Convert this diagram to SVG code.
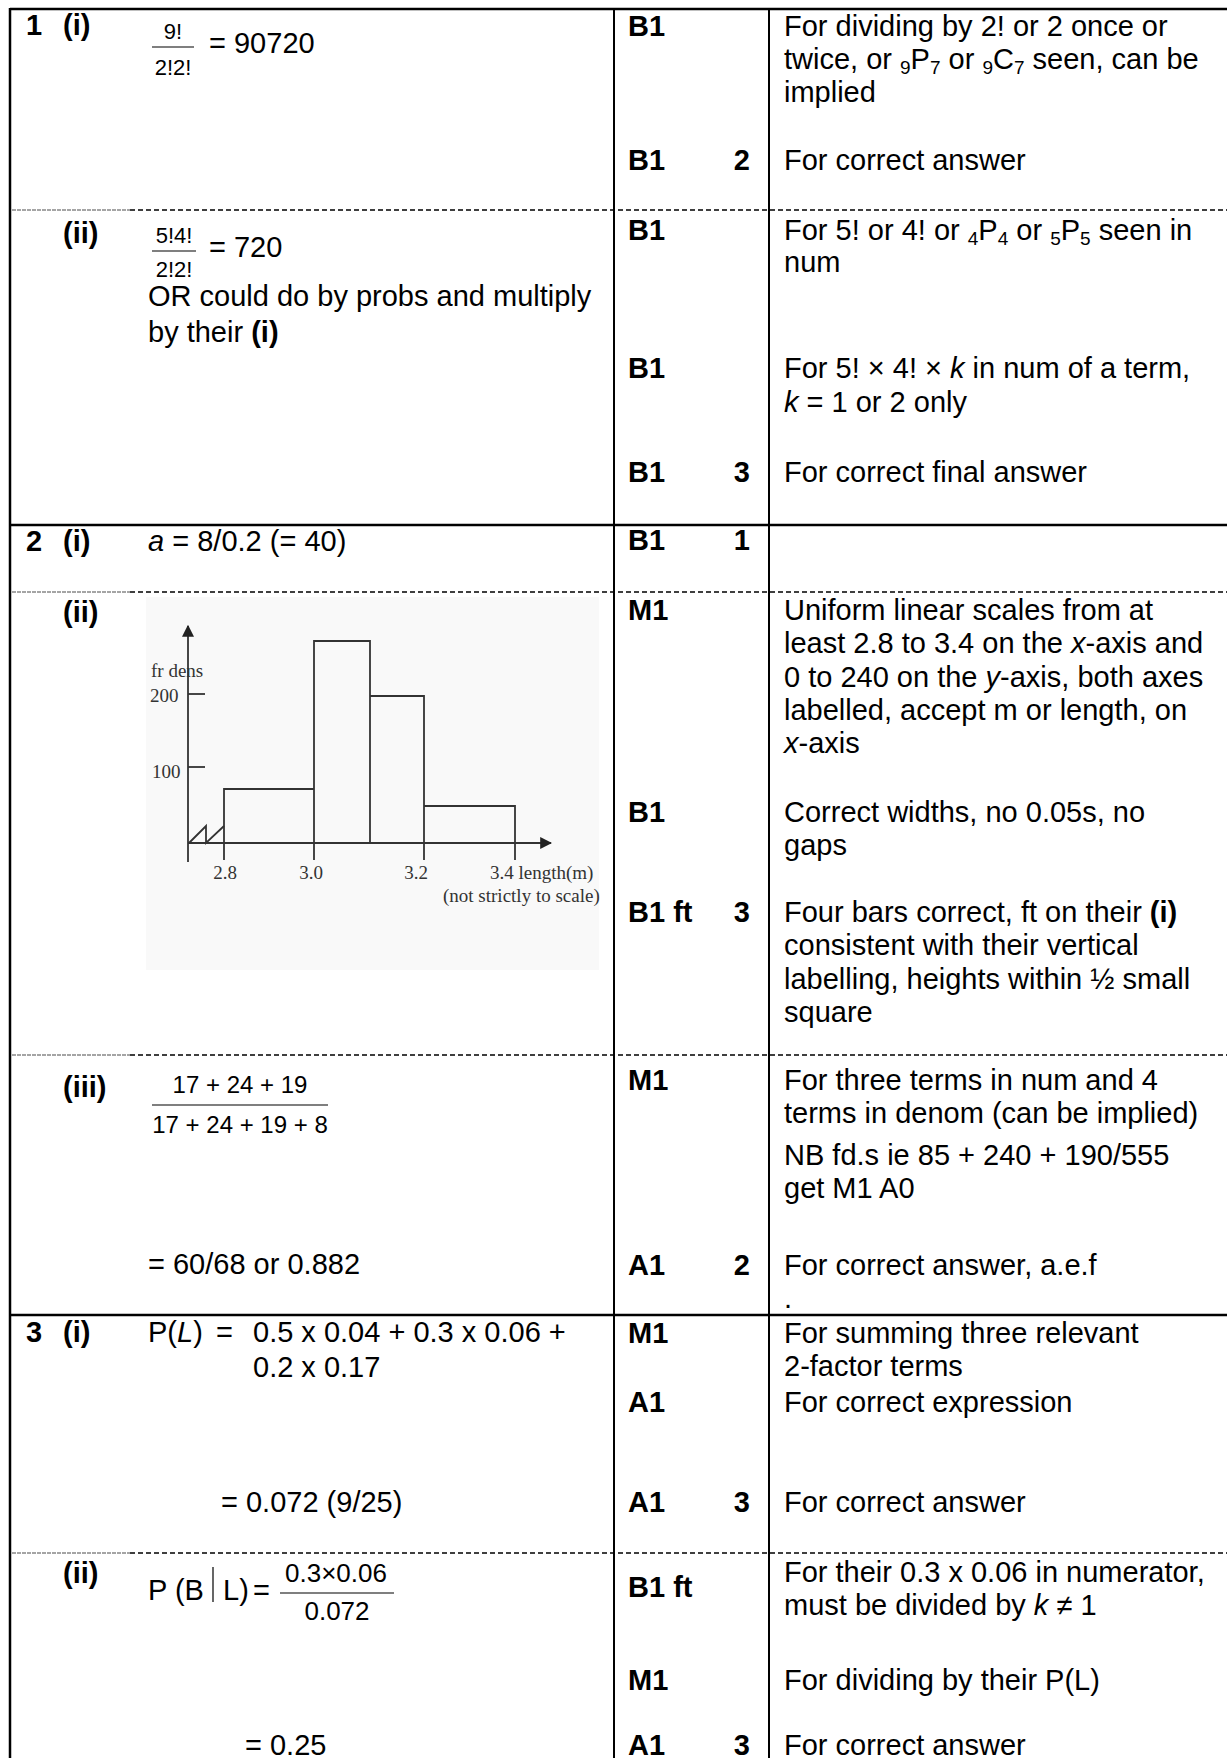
<svg xmlns="http://www.w3.org/2000/svg" width="1227" height="1758" viewBox="0 0 1227 1758">
<style>
text{font-family:"Liberation Sans",Arial,sans-serif;font-size:29px;fill:#000}
.b{font-weight:bold}
.i{font-style:italic}
.s22{font-size:22px}
.s24{font-size:24px}
.s26{font-size:26px}
.sub{font-size:19px}
.m{text-anchor:middle}
.e{text-anchor:end}
.ch{font-family:"Liberation Serif","Times New Roman",serif;font-size:19px;fill:#333}
.solid{stroke:#000;stroke-width:2.5;fill:none}
.vl{stroke:#000;stroke-width:2;fill:none}
.dash{stroke:#000;stroke-width:1.5;stroke-dasharray:5 3;fill:none}
.dashg{stroke:#888;stroke-width:1.5;stroke-dasharray:4 1;fill:none}
.fr{stroke:#000;stroke-width:1.2}
.cl{stroke:#333;stroke-width:1.8;fill:none}
</style>
<defs>
<marker id="arr" viewBox="0 0 10 10" refX="9" refY="5" markerWidth="12" markerHeight="12" markerUnits="userSpaceOnUse" orient="auto"><path d="M0,0 L10,5 L0,10 z" fill="#222"/></marker>
</defs>
<rect width="1227" height="1758" fill="#fff"/>
<g id="grid">
<line class="solid" x1="10" y1="9" x2="1227" y2="9"/>
<line class="solid" x1="10" y1="8" x2="10" y2="1758"/>
<line class="vl" x1="614" y1="8" x2="614" y2="1758"/>
<line class="vl" x1="769" y1="8" x2="769" y2="1758"/>
<line class="solid" x1="10" y1="525" x2="1227" y2="525"/>
<line class="solid" x1="10" y1="1315" x2="1227" y2="1315"/>
<line class="dashg" x1="12" y1="210" x2="130" y2="210"/>
<line class="dash" x1="130" y1="210" x2="1227" y2="210"/>
<line class="dashg" x1="12" y1="592" x2="130" y2="592"/>
<line class="dash" x1="130" y1="592" x2="1227" y2="592"/>
<line class="dashg" x1="12" y1="1055" x2="130" y2="1055"/>
<line class="dash" x1="130" y1="1055" x2="1227" y2="1055"/>
<line class="dashg" x1="12" y1="1553" x2="130" y2="1553"/>
<line class="dash" x1="130" y1="1553" x2="1227" y2="1553"/>
</g>
<g id="q1i">
<text class="b" x="26" y="35">1</text>
<text class="b" x="63" y="35">(i)</text>
<text class="s22 m" x="173" y="39">9!</text>
<line class="fr" x1="152" y1="47" x2="194" y2="47"/>
<text class="s22 m" x="173" y="75">2!2!</text>
<text x="209" y="53">= 90720</text>
<text class="b" x="628" y="36">B1</text>
<text x="784" y="36">For dividing by 2! or 2 once or</text>
<text x="784" y="69">twice, or <tspan class="sub" dy="5">9</tspan><tspan dy="-5">P</tspan><tspan class="sub" dy="5">7</tspan><tspan dy="-5"> or </tspan><tspan class="sub" dy="5">9</tspan><tspan dy="-5">C</tspan><tspan class="sub" dy="5">7</tspan><tspan dy="-5"> seen, can be</tspan></text>
<text x="784" y="102">implied</text>
<text class="b" x="628" y="170">B1</text>
<text class="b e" x="750" y="170">2</text>
<text x="784" y="170">For correct answer</text>
</g>
<g id="q1ii">
<text class="b" x="63" y="243">(ii)</text>
<text class="s22 m" x="174" y="243">5!4!</text>
<line class="fr" x1="152" y1="251" x2="196" y2="251"/>
<text class="s22 m" x="174" y="277">2!2!</text>
<text x="209" y="257">= 720</text>
<text x="148" y="306">OR could do by probs and multiply</text>
<text x="148" y="342">by their <tspan class="b">(i)</tspan></text>
<text class="b" x="628" y="240">B1</text>
<text x="784" y="240">For 5! or 4! or <tspan class="sub" dy="5">4</tspan><tspan dy="-5">P</tspan><tspan class="sub" dy="5">4</tspan><tspan dy="-5"> or </tspan><tspan class="sub" dy="5">5</tspan><tspan dy="-5">P</tspan><tspan class="sub" dy="5">5</tspan><tspan dy="-5"> seen in</tspan></text>
<text x="784" y="272">num</text>
<text class="b" x="628" y="378">B1</text>
<text x="784" y="378">For 5! × 4! × <tspan class="i">k</tspan> in num of a term,</text>
<text x="784" y="412"><tspan class="i">k</tspan> = 1 or 2 only</text>
<text class="b" x="628" y="482">B1</text>
<text class="b e" x="750" y="482">3</text>
<text x="784" y="482">For correct final answer</text>
</g>
<g id="q2i">
<text class="b" x="26" y="551">2</text>
<text class="b" x="63" y="551">(i)</text>
<text x="148" y="551"><tspan class="i">a</tspan> = 8/0.2 (= 40)</text>
<text class="b" x="628" y="550">B1</text>
<text class="b e" x="750" y="550">1</text>
</g>
<g id="q2ii">
<text class="b" x="63" y="622">(ii)</text>
<g id="histogram">
<rect x="146" y="597" width="453" height="373" fill="#f9f9f9"/>
<line class="cl" x1="188" y1="862" x2="188" y2="626" marker-end="url(#arr)"/>
<line class="cl" x1="188" y1="843" x2="551" y2="843" marker-end="url(#arr)"/>
<line class="cl" x1="188" y1="694" x2="205" y2="694"/>
<line class="cl" x1="188" y1="767" x2="205" y2="767"/>
<polyline class="cl" points="189,843 206,826 206,843 224,826"/>
<polyline class="cl" points="224,860 224,789 314,789"/>
<polyline class="cl" points="314,860 314,641 370,641 370,843"/>
<polyline class="cl" points="370,696 424,696 424,860"/>
<polyline class="cl" points="424,806 515,806 515,860"/>
<text class="ch" x="151" y="677">fr dens</text>
<text class="ch" x="150" y="702">200</text>
<text class="ch" x="152" y="778">100</text>
<text class="ch m" x="225" y="879">2.8</text>
<text class="ch m" x="311" y="879">3.0</text>
<text class="ch m" x="416" y="879">3.2</text>
<text class="ch" x="490" y="879">3.4 length(m)</text>
<text class="ch" x="443" y="902">(not strictly to scale)</text>
</g>
<text class="b" x="628" y="620">M1</text>
<text x="784" y="620">Uniform linear scales from at</text>
<text x="784" y="653">least 2.8 to 3.4 on the <tspan class="i">x</tspan>-axis and</text>
<text x="784" y="687">0 to 240 on the <tspan class="i">y</tspan>-axis, both axes</text>
<text x="784" y="720">labelled, accept m or length, on</text>
<text x="784" y="753"><tspan class="i">x</tspan>-axis</text>
<text class="b" x="628" y="822">B1</text>
<text x="784" y="822">Correct widths, no 0.05s, no</text>
<text x="784" y="855">gaps</text>
<text class="b" x="628" y="922">B1 ft</text>
<text class="b e" x="750" y="922">3</text>
<text x="784" y="922">Four bars correct, ft on their <tspan class="b">(i)</tspan></text>
<text x="784" y="955">consistent with their vertical</text>
<text x="784" y="989">labelling, heights within ½ small</text>
<text x="784" y="1022">square</text>
</g>
<g id="q2iii">
<text class="b" x="63" y="1097">(iii)</text>
<text class="s24 m" x="240" y="1093">17 + 24 + 19</text>
<line class="fr" x1="152" y1="1105" x2="328" y2="1105"/>
<text class="s24 m" x="240" y="1133">17 + 24 + 19 + 8</text>
<text x="148" y="1274">= 60/68 or 0.882</text>
<text class="b" x="628" y="1090">M1</text>
<text x="784" y="1090">For three terms in num and 4</text>
<text x="784" y="1123">terms in denom (can be implied)</text>
<text x="784" y="1165">NB fd.s ie 85 + 240 + 190/555</text>
<text x="784" y="1198">get M1 A0</text>
<text class="b" x="628" y="1275">A1</text>
<text class="b e" x="750" y="1275">2</text>
<text x="784" y="1275">For correct answer, a.e.f</text>
<text x="784" y="1308">.</text>
</g>
<g id="q3i">
<text class="b" x="26" y="1342">3</text>
<text class="b" x="63" y="1342">(i)</text>
<text x="148" y="1342">P(<tspan class="i">L</tspan>)</text>
<text x="216" y="1342">=</text>
<text x="253" y="1342">0.5 x 0.04 + 0.3 x 0.06 +</text>
<text x="253" y="1377">0.2 x 0.17</text>
<text x="221" y="1512">= 0.072 (9/25)</text>
<text class="b" x="628" y="1343">M1</text>
<text x="784" y="1343">For summing three relevant</text>
<text x="784" y="1376">2-factor terms</text>
<text class="b" x="628" y="1412">A1</text>
<text x="784" y="1412">For correct expression</text>
<text class="b" x="628" y="1512">A1</text>
<text class="b e" x="750" y="1512">3</text>
<text x="784" y="1512">For correct answer</text>
</g>
<g id="q3ii">
<text class="b" x="63" y="1583">(ii)</text>
<text x="148" y="1600">P (B</text>
<line class="fr" x1="213" y1="1567" x2="213" y2="1602"/>
<text x="223" y="1600">L)</text>
<text x="253" y="1600">=</text>
<text class="s26 m" x="336" y="1582">0.3×0.06</text>
<line class="fr" x1="280" y1="1593" x2="394" y2="1593"/>
<text class="s26 m" x="337" y="1620">0.072</text>
<text x="245" y="1755">= 0.25</text>
<text class="b" x="628" y="1597">B1 ft</text>
<text x="784" y="1582">For their 0.3 x 0.06 in numerator,</text>
<text x="784" y="1615">must be divided by <tspan class="i">k</tspan> ≠ 1</text>
<text class="b" x="628" y="1690">M1</text>
<text x="784" y="1690">For dividing by their P(L)</text>
<text class="b" x="628" y="1755">A1</text>
<text class="b e" x="750" y="1755">3</text>
<text x="784" y="1755">For correct answer</text>
</g>
</svg>
